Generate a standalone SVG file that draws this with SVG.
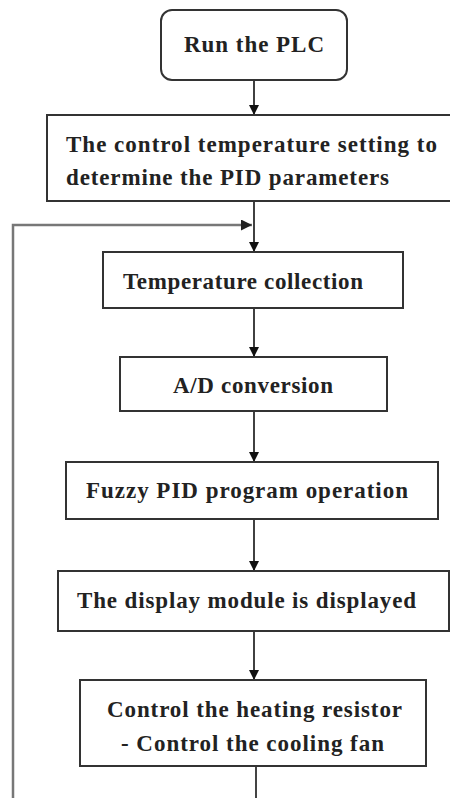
<svg xmlns="http://www.w3.org/2000/svg" width="450" height="798" viewBox="0 0 450 798">
<defs>
<style>
.box{fill:#fff;stroke:#333;stroke-width:2}
.t{font-family:"Liberation Serif","Times New Roman",serif;font-weight:bold;font-size:23px;fill:#222}
.ln{stroke:#111;stroke-width:1.6;fill:none}
.fb{stroke:#777;stroke-width:2.5;fill:none}
</style>
<marker id="ah" viewBox="0 0 10 10" refX="10" refY="5" markerWidth="10" markerHeight="10" markerUnits="userSpaceOnUse" orient="auto">
<path d="M0,0 L10,5 L0,10 Z" fill="#111"/>
</marker>
<marker id="ahg" viewBox="0 0 10 10" refX="10" refY="5" markerWidth="12" markerHeight="11" markerUnits="userSpaceOnUse" orient="auto">
<path d="M0,0 L10,5 L0,10 Z" fill="#222"/>
</marker>
</defs>
<rect width="450" height="798" fill="#fff"/>
<g id="connectors">
<line class="ln" x1="254" y1="80" x2="254" y2="115" marker-end="url(#ah)"/>
<line class="ln" x1="254" y1="201" x2="254" y2="252" marker-end="url(#ah)"/>
<line class="ln" x1="254" y1="308" x2="254" y2="357" marker-end="url(#ah)"/>
<line class="ln" x1="254" y1="411" x2="254" y2="462" marker-end="url(#ah)"/>
<line class="ln" x1="254" y1="519" x2="254" y2="571" marker-end="url(#ah)"/>
<line class="ln" x1="254" y1="631" x2="254" y2="680" marker-end="url(#ah)"/>
<line class="ln" x1="256" y1="766" x2="256" y2="798" style="stroke:#444;stroke-width:2"/>
<polyline class="fb" points="13,798 13,225 252,225" marker-end="url(#ahg)"/>
</g>
<g id="n1">
<rect class="box" x="161" y="10" width="186" height="70" rx="11"/>
<text class="t" x="254" y="52" text-anchor="middle" textLength="140" lengthAdjust="spacing">Run the PLC</text>
</g>
<g id="n2">
<rect class="box" x="47" y="115" width="410" height="86"/>
<text class="t" x="66" y="152" textLength="371" lengthAdjust="spacing">The control temperature setting to</text>
<text class="t" x="66" y="185" textLength="323" lengthAdjust="spacing">determine the PID parameters</text>
</g>
<g id="n3">
<rect class="box" x="103" y="252" width="300" height="56"/>
<text class="t" x="123" y="289" textLength="240" lengthAdjust="spacing">Temperature collection</text>
</g>
<g id="n4">
<rect class="box" x="120" y="357" width="267" height="54"/>
<text class="t" x="173" y="393" textLength="160" lengthAdjust="spacing">A/D conversion</text>
</g>
<g id="n5">
<rect class="box" x="66" y="462" width="372" height="57"/>
<text class="t" x="86" y="498" textLength="322" lengthAdjust="spacing">Fuzzy PID program operation</text>
</g>
<g id="n6">
<rect class="box" x="58" y="571" width="391" height="60"/>
<text class="t" x="77" y="608" textLength="339" lengthAdjust="spacing">The display module is displayed</text>
</g>
<g id="n7">
<rect class="box" x="80" y="680" width="346" height="86"/>
<text class="t" x="107" y="717" textLength="295" lengthAdjust="spacing">Control the heating resistor</text>
<text class="t" x="121" y="751" textLength="263" lengthAdjust="spacing">- Control the cooling fan</text>
</g>
</svg>
